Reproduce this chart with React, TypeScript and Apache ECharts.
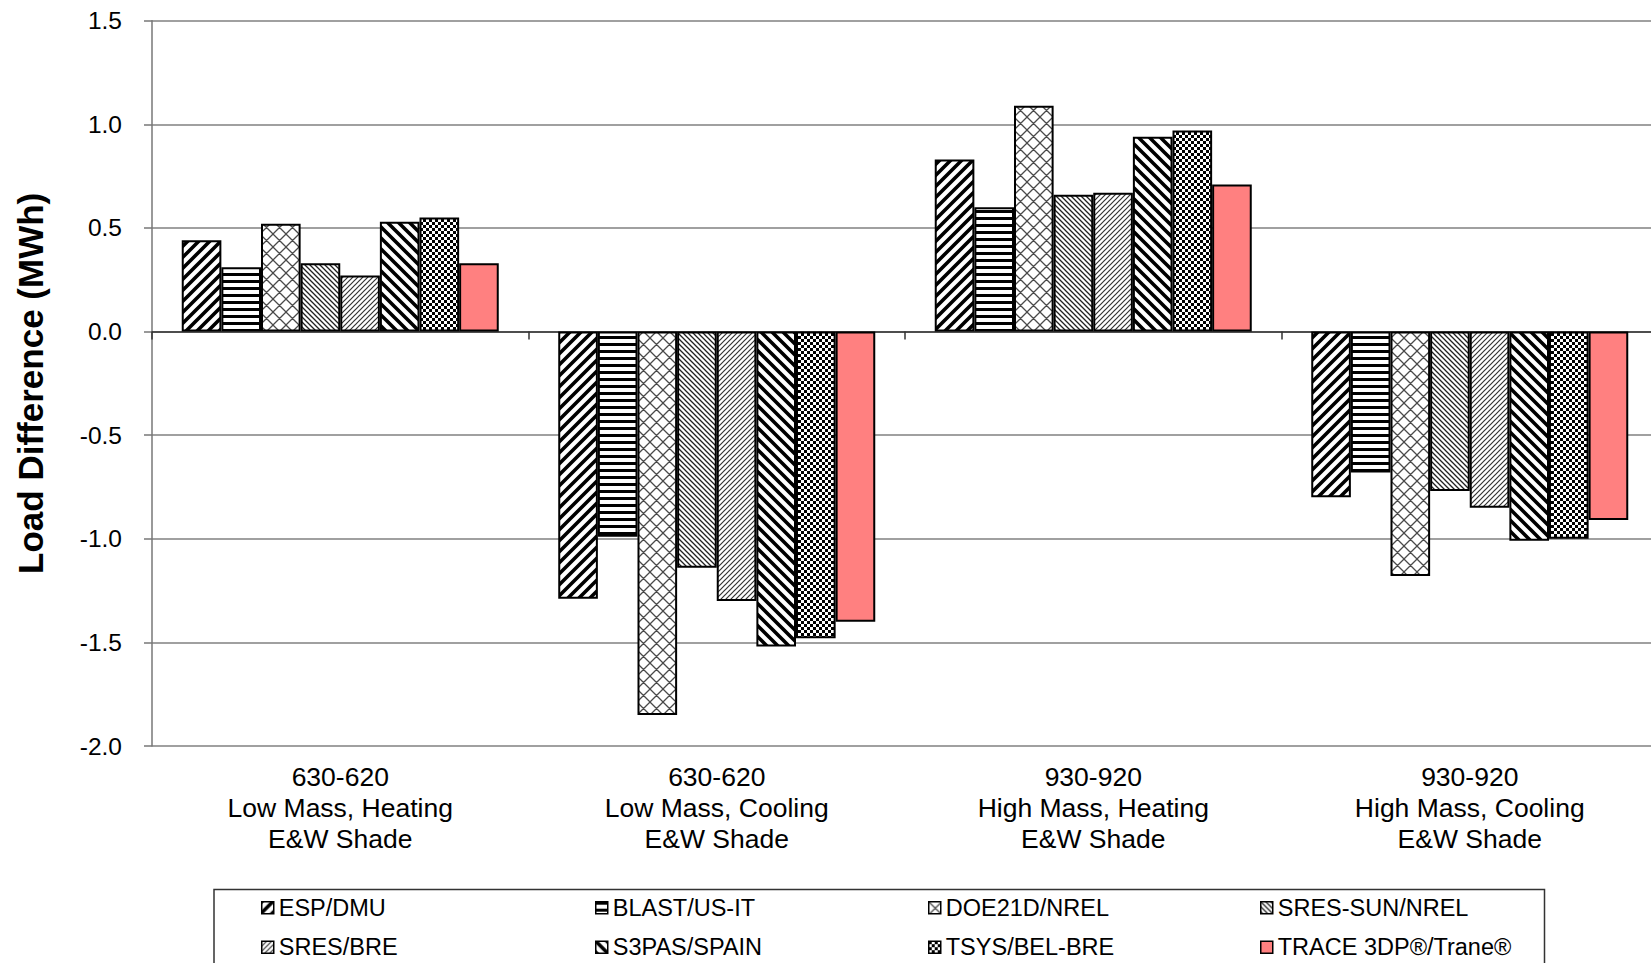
import React, { useEffect, useRef } from "react";
import * as echarts from "echarts";

const categories = [
  "630-620\nLow Mass, Heating\nE&W Shade",
  "630-620\nLow Mass, Cooling\nE&W Shade",
  "930-920\nHigh Mass, Heating\nE&W Shade",
  "930-920\nHigh Mass, Cooling\nE&W Shade",
];

const seriesNames = [
  "ESP/DMU",
  "BLAST/US-IT",
  "DOE21D/NREL",
  "SRES-SUN/NREL",
  "SRES/BRE",
  "S3PAS/SPAIN",
  "TSYS/BEL-BRE",
  "TRACE 3DP®/Trane®",
];

const espDmu = [0.44, -1.29, 0.83, -0.8];
const blastUsIt = [0.31, -0.99, 0.6, -0.68];
const doe21dNrel = [0.52, -1.85, 1.09, -1.18];
const sresSunNrel = [0.33, -1.14, 0.66, -0.77];
const sresBre = [0.27, -1.3, 0.67, -0.85];
const s3pasSpain = [0.53, -1.52, 0.94, -1.01];
const tsysBelBre = [0.55, -1.48, 0.97, -1.0];
const trace3dp = [0.33, -1.4, 0.71, -0.91];

const seriesValues = [espDmu, blastUsIt, doe21dNrel, sresSunNrel, sresBre, s3pasSpain, tsysBelBre, trace3dp];

const yTicks = { min: -2.0, max: 1.5, interval: 0.5 };

const FONT = "'Liberation Sans', Arial, Helvetica, sans-serif";

function tile(w: number, h: number, draw: (ctx: CanvasRenderingContext2D) => void) {
  const c = document.createElement("canvas");
  c.width = w;
  c.height = h;
  const ctx = c.getContext("2d") as CanvasRenderingContext2D;
  ctx.fillStyle = "#ffffff";
  ctx.fillRect(0, 0, w, h);
  draw(ctx);
  return { image: c.toDataURL(), repeat: "repeat", imageWidth: w, imageHeight: h } as any;
}

function forward(s: number, lw: number, color: string) {
  return tile(s, s, (ctx) => {
    ctx.strokeStyle = color;
    ctx.lineWidth = lw;
    ctx.beginPath();
    for (const c of [0, s, 2 * s]) {
      ctx.moveTo(c - 2 * s, 2 * s);
      ctx.lineTo(c + 2 * s, -2 * s);
    }
    ctx.stroke();
  });
}

function backward(s: number, lw: number, color: string) {
  return tile(s, s, (ctx) => {
    ctx.strokeStyle = color;
    ctx.lineWidth = lw;
    ctx.beginPath();
    for (const c of [-s, 0, s]) {
      ctx.moveTo(-2 * s, -2 * s + c);
      ctx.lineTo(2 * s, 2 * s + c);
    }
    ctx.stroke();
  });
}

function makeFills() {
  const horiz = tile(4, 7, (ctx) => {
    ctx.fillStyle = "#000";
    ctx.fillRect(0, 0, 4, 3);
  });
  const diamond = tile(13, 13, (ctx) => {
    const s = 13;
    ctx.strokeStyle = "#4a4a4a";
    ctx.lineWidth = 1.3;
    ctx.beginPath();
    for (const c of [0, s, 2 * s]) {
      ctx.moveTo(c - 2 * s, 2 * s);
      ctx.lineTo(c + 2 * s, -2 * s);
    }
    for (const c of [-s, 0, s]) {
      ctx.moveTo(-2 * s, -2 * s + c);
      ctx.lineTo(2 * s, 2 * s + c);
    }
    ctx.stroke();
  });
  const checker = tile(6, 6, (ctx) => {
    ctx.fillStyle = "#000";
    ctx.fillRect(0, 0, 3, 3);
    ctx.fillRect(3, 3, 3, 3);
  });
  return [
    forward(11, 3.6, "#000"),
    horiz,
    diamond,
    backward(5, 1.3, "#222"),
    forward(5, 1.2, "#333"),
    backward(11, 3.6, "#000"),
    checker,
    "#FF8080",
  ];
}

const legendCols = [261, 595, 928, 1260];
const legendRows = [895.7, 935.2];

export default function App() {
  const ref = useRef<HTMLDivElement>(null);

  useEffect(() => {
    if (!ref.current) return;
    const chart = echarts.init(ref.current, undefined, { renderer: "svg" });
    const fills = makeFills();

    const legends = seriesNames.map((name, i) => ({
      left: legendCols[i % 4],
      top: legendRows[Math.floor(i / 4)],
      orient: "horizontal",
      itemGap: 0,
      itemWidth: 12,
      itemHeight: 12,
      icon: "rect",
      padding: 0,
      selectedMode: false,
      itemStyle: { borderColor: "#000", borderWidth: 1.5 },
      textStyle: { fontSize: 23.5, color: "#000", fontFamily: FONT },
      data: [name],
    }));

    chart.setOption({
      animation: false,
      backgroundColor: "#ffffff",
      textStyle: { fontFamily: FONT },
      grid: { left: 152, top: 20.7, width: 1506, height: 725.3, containLabel: false },
      legend: legends,
      graphic: [
        {
          type: "rect",
          shape: { x: 214, y: 889.5, width: 1330.5, height: 120 },
          style: { fill: "none", stroke: "#333", lineWidth: 1.5 },
          silent: true,
        },
      ],
      xAxis: [
        {
          type: "category",
          data: categories,
          position: "bottom",
          axisLine: { show: true, onZero: true, lineStyle: { color: "#333", width: 1.5 } },
          axisTick: { show: true, length: 8, inside: false, lineStyle: { color: "#333", width: 1.5 } },
          axisLabel: { show: false },
          splitLine: { show: false },
        },
        {
          type: "category",
          data: categories,
          position: "bottom",
          axisLine: { show: false, onZero: false },
          axisTick: { show: false },
          splitLine: { show: false },
          axisLabel: {
            show: true,
            interval: 0,
            margin: 15,
            fontSize: 26.5,
            lineHeight: 31,
            color: "#000",
            fontFamily: FONT,
          },
        },
      ],
      yAxis: {
        type: "value",
        min: yTicks.min,
        max: yTicks.max,
        interval: yTicks.interval,
        name: "Load Difference (MWh)",
        nameLocation: "middle",
        nameRotate: 90,
        nameGap: 104,
        nameTextStyle: { fontSize: 35, fontWeight: "bold", color: "#000", fontFamily: FONT },
        axisLine: { show: true, onZero: false, lineStyle: { color: "#777", width: 1.5 } },
        axisTick: { show: true, length: 8, lineStyle: { color: "#777", width: 1.5 } },
        axisLabel: {
          margin: 30,
          fontSize: 24.5,
          color: "#000",
          fontFamily: FONT,
          formatter: (v: number) => v.toFixed(1),
        },
        splitLine: { show: true, lineStyle: { color: "#808080", width: 1.5 } },
      },
      series: seriesNames.map((name, i) => ({
        name,
        type: "bar",
        xAxisIndex: 0,
        data: seriesValues[i],
        barGap: "0%",
        barCategoryGap: "15.8%",
        itemStyle: { color: fills[i], borderColor: "#000", borderWidth: 2 },
      })),
    } as any);

    return () => chart.dispose();
  }, []);

  return (
    <div
      style={{
        position: "absolute",
        left: 0,
        top: 0,
        width: 1651,
        height: 963,
        overflow: "hidden",
        background: "#fff",
      }}
    >
      <div ref={ref} style={{ width: 1700, height: 963 }} />
    </div>
  );
}
